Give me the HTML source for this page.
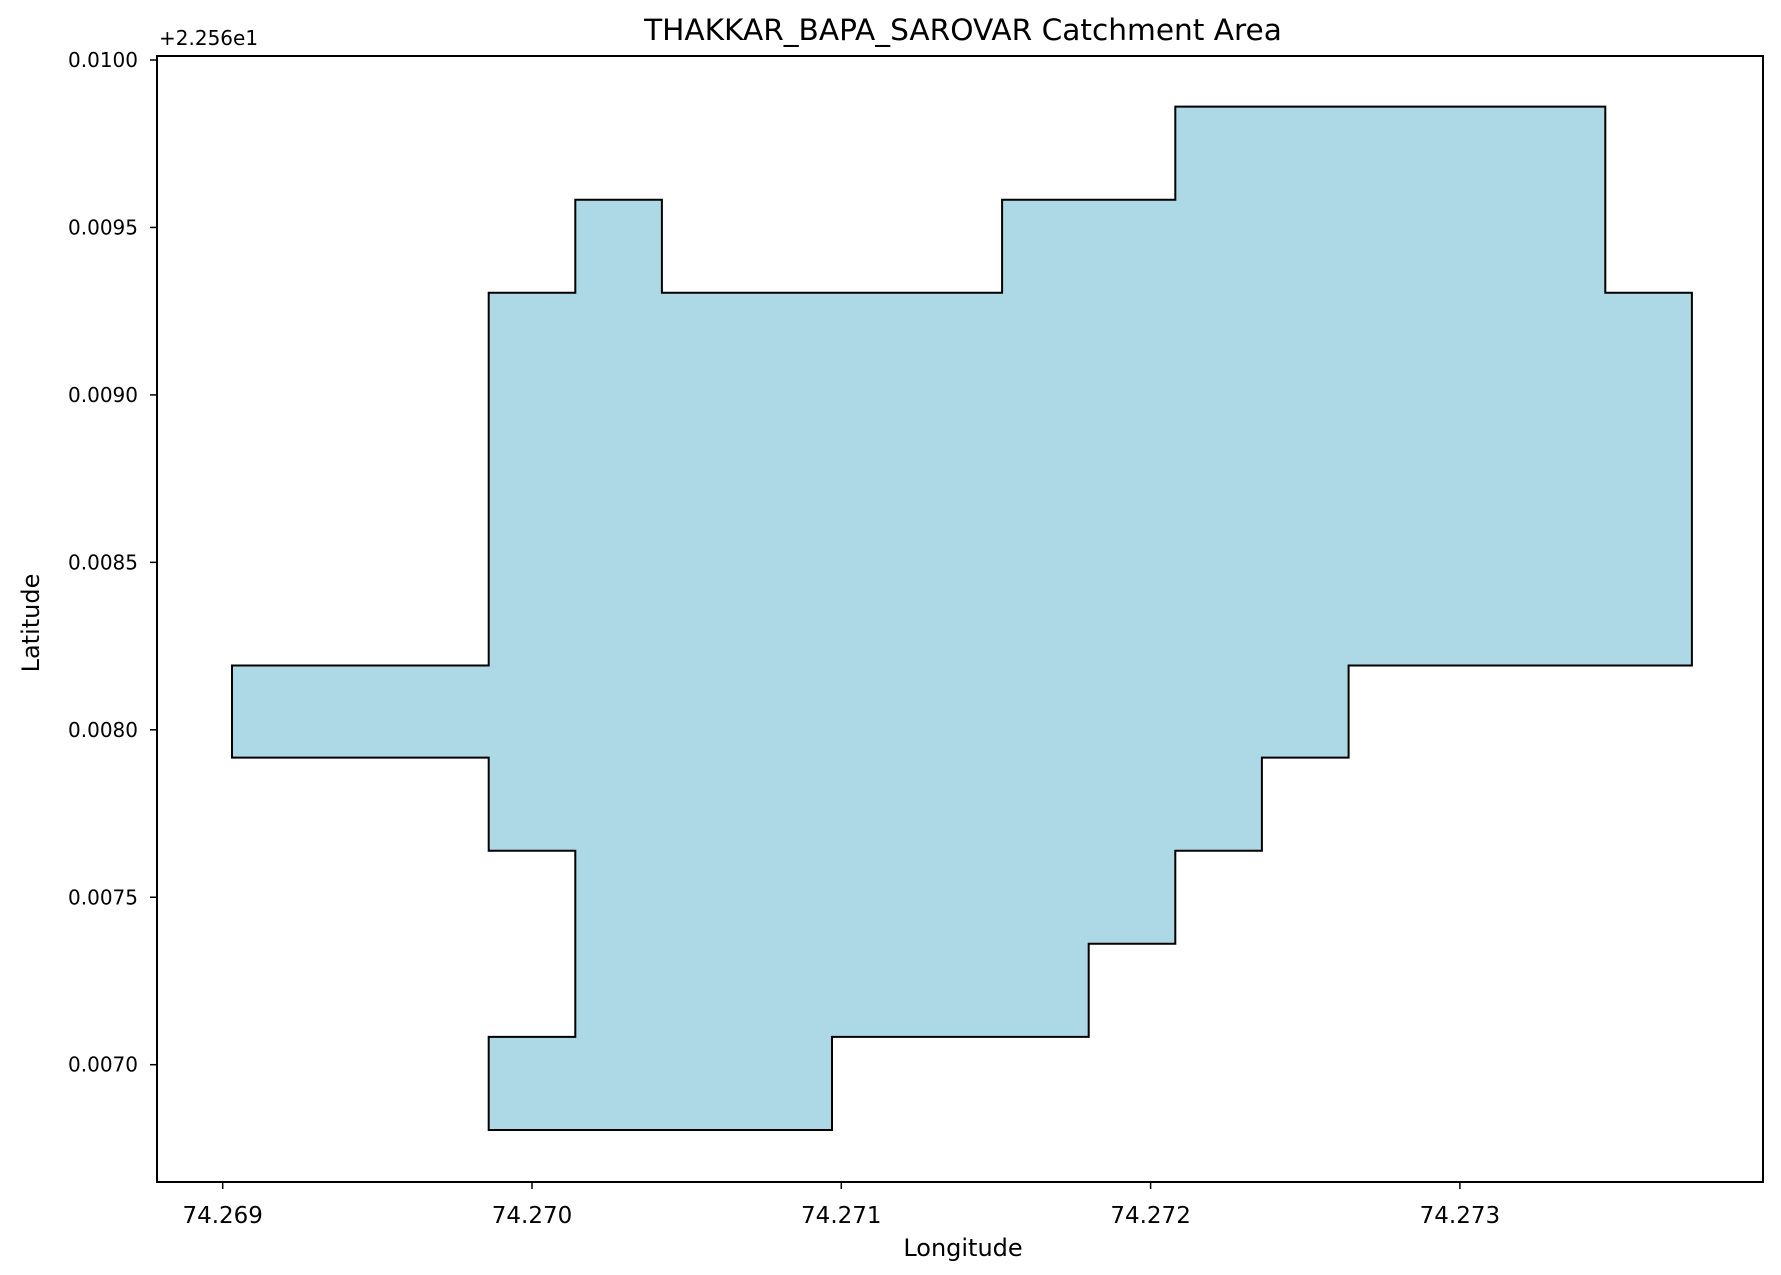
<!DOCTYPE html>
<html><head><meta charset="utf-8"><style>
body{margin:0;background:#fff}
svg{display:block;font-family:"DejaVu Sans","Liberation Sans",sans-serif}
</style></head><body>
<svg width="1781" height="1275" viewBox="0 0 1781 1275">
<rect x="0" y="0" width="1781" height="1275" fill="#fff"/>
<text x="963" y="40" font-size="29.6" text-anchor="middle">THAKKAR_BAPA_SAROVAR Catchment Area</text>
<text x="159" y="45" font-size="20">+2.256e1</text>
<g id="plot"></g>
<rect x="157" y="56" width="1606" height="1126" fill="none" stroke="#000" stroke-width="2"/>
<g id="xt"></g>
<g id="yt"></g>
<text x="963" y="1256" font-size="24" text-anchor="middle">Longitude</text>
<text transform="translate(39,623) rotate(-90)" font-size="24" text-anchor="middle">Latitude</text>
</svg>
<script>
const polyLon = [74.26986,74.27097,74.27097,74.27180,74.27180,74.27208,74.27208,74.27236,74.27236,74.27264,74.27264,74.27375,74.27375,74.27347,74.27347,74.27208,74.27208,74.27152,74.27152,74.27042,74.27042,74.27014,74.27014,74.26986,74.26986,74.26903,74.26903,74.26986,74.26986,74.27014,74.27014,74.26986];
const polyLat = [0.006805,0.006805,0.007083,0.007083,0.007361,0.007361,0.007639,0.007639,0.007917,0.007917,0.008192,0.008192,0.009305,0.009305,0.009861,0.009861,0.009583,0.009583,0.009305,0.009305,0.009583,0.009583,0.009305,0.009305,0.008192,0.008192,0.007917,0.007917,0.007639,0.007639,0.007083,0.007083];
const xTicks = [74.269,74.270,74.271,74.272,74.273];
const xTickLabels = ["74.269","74.270","74.271","74.272","74.273"];
const yTicks = [0.0070,0.0075,0.0080,0.0085,0.0090,0.0095,0.0100];
const yTickLabels = ["0.0070","0.0075","0.0080","0.0085","0.0090","0.0095","0.0100"];
const NS="http://www.w3.org/2000/svg";
function xs(v){return 532+(v-74.270)*309300;}
function ys(v){return 60+(0.0100-v)*334900;}
const plot=document.getElementById('plot');
const poly=document.createElementNS(NS,'polygon');
poly.setAttribute('points',polyLon.map((l,i)=>xs(l).toFixed(1)+','+ys(polyLat[i]).toFixed(1)).join(' '));
poly.setAttribute('fill','#add8e6');poly.setAttribute('stroke','#000');poly.setAttribute('stroke-width','2');


plot.appendChild(poly);
const xt=document.getElementById('xt');
xTicks.forEach((v,i)=>{
 const x=xs(v);
 const l=document.createElementNS(NS,'line');
 l.setAttribute('x1',x);l.setAttribute('x2',x);l.setAttribute('y1',1182);l.setAttribute('y2',1189);l.setAttribute('stroke','#000');l.setAttribute('stroke-width','1.5');
 
 
 xt.appendChild(l);
 const t=document.createElementNS(NS,'text');
 t.setAttribute('x',x);t.setAttribute('y',1223);t.setAttribute('font-size','23');t.setAttribute('text-anchor','middle');
 t.textContent=xTickLabels[i];
 
 
 xt.appendChild(t);
});
const yt=document.getElementById('yt');
yTicks.forEach((v,i)=>{
 const y=ys(v);
 const l=document.createElementNS(NS,'line');
 l.setAttribute('x1',150);l.setAttribute('x2',157);l.setAttribute('y1',y);l.setAttribute('y2',y);l.setAttribute('stroke','#000');l.setAttribute('stroke-width','1.5');
 
 
 yt.appendChild(l);
 const t=document.createElementNS(NS,'text');
 t.setAttribute('x',138);t.setAttribute('y',y+7);t.setAttribute('font-size','20');t.setAttribute('text-anchor','end');
 t.textContent=yTickLabels[i];
 
 
 yt.appendChild(t);
});
</script>
</body></html>
